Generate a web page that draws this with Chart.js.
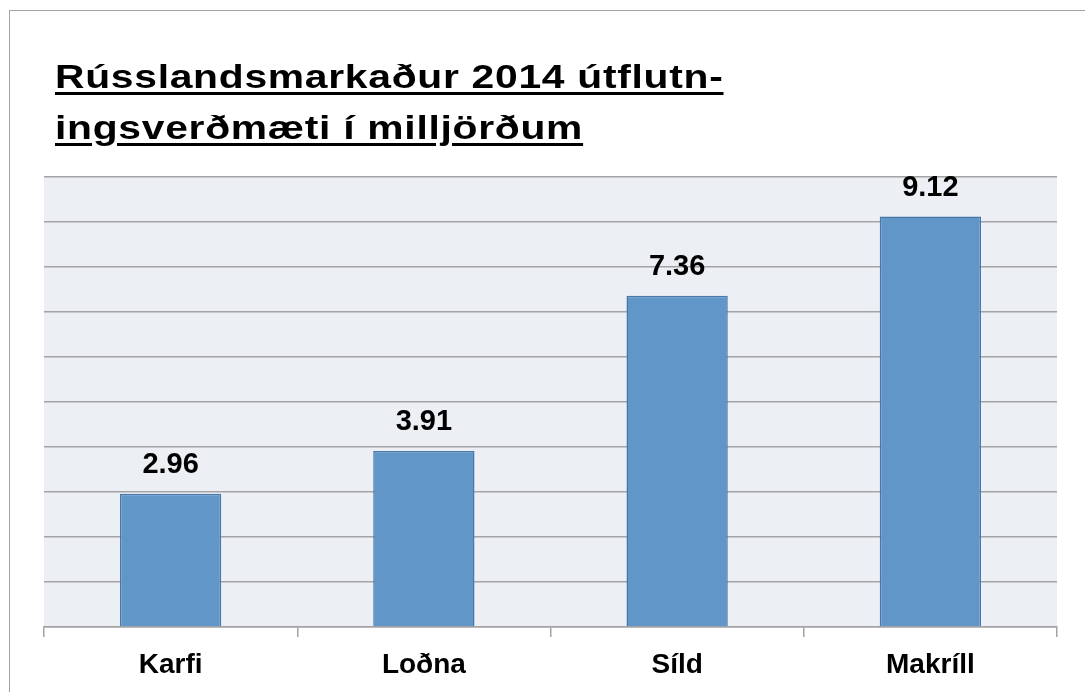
<!DOCTYPE html>
<html lang="is">
<head>
<meta charset="utf-8">
<title>Rússlandsmarkaður 2014</title>
<script src="https://cdn.jsdelivr.net/npm/chart.js@4.4.1/dist/chart.umd.min.js"></script>
<style>
  html, body { margin: 0; padding: 0; background: #ffffff; }
  #palco { position: relative; width: 1085px; height: 692px; overflow: hidden; }
  #moldura {
    position: absolute; left: 9px; top: 10px; right: -5px; bottom: -5px;
    border-left: 1.5px solid #a3a3a3; border-top: 1.5px solid #a3a3a3;
  }
  #titulo {
    position: absolute; left: 55px; top: 51px; margin: 0; white-space: nowrap;
    font: bold 34px/51px "Liberation Sans", Arial, Helvetica, sans-serif;
    letter-spacing: 0.6px; color: #000;
    text-decoration: underline; text-decoration-thickness: 3px; text-underline-offset: 4px;
    transform: scaleX(1.2); transform-origin: left top;
  }
  #grafico { position: absolute; left: 0; top: 0; }
</style>
</head>
<body>
<div id="palco">
  <div id="moldura"></div>
  <canvas id="grafico" width="1085" height="692"></canvas>
  <div id="titulo"></div>
</div>
<script>
// Dados do gráfico
const titulo = ['Rússlandsmarkaður 2014 útflutn-', 'ingsverðmæti í milljörðum'];
const categorias = ['Karfi', 'Loðna', 'Síld', 'Makríll'];
const valores = [2.96, 3.91, 7.36, 9.12];
const eixoYMin = 0;
const eixoYMax = 10;
const eixoYPasso = 1;

const fonte = '"Liberation Sans", Arial, Helvetica, sans-serif';
const corGrade = '#a3a3a3';

// Título em HTML (sublinhado)
document.getElementById('titulo').innerHTML = titulo.join('<br>');

// Fundo da área do gráfico
const fundoArea = {
  id: 'fundoArea',
  beforeDraw(chart) {
    const { ctx, chartArea: a } = chart;
    ctx.save();
    ctx.fillStyle = '#eceff4';
    ctx.fillRect(a.left, a.top, a.right - a.left, a.bottom - a.top);
    ctx.restore();
  }
};

// Rótulos de valor acima das barras
const rotulosValor = {
  id: 'rotulosValor',
  afterDatasetsDraw(chart) {
    const { ctx } = chart;
    const meta = chart.getDatasetMeta(0);
    ctx.save();
    ctx.font = 'bold 29px ' + fonte;
    ctx.fillStyle = '#000';
    ctx.textAlign = 'center';
    ctx.textBaseline = 'alphabetic';
    meta.data.forEach((barra, i) => {
      ctx.fillText(valores[i].toFixed(2), barra.x, barra.y - 21);
    });
    ctx.restore();
  }
};

new Chart(document.getElementById('grafico').getContext('2d'), {
  type: 'bar',
  data: {
    labels: categorias,
    datasets: [{
      data: valores,
      backgroundColor: '#6196c9',
      borderColor: '#4a77a9',
      borderWidth: 1.5,
      barPercentage: 0.4,
      categoryPercentage: 1
    }]
  },
  options: {
    responsive: false,
    animation: false,
    devicePixelRatio: 1,
    layout: { padding: { left: 44, right: 28, top: 177, bottom: 0 } },
    plugins: {
      legend: { display: false },
      tooltip: { enabled: false }
    },
    scales: {
      x: {
        afterFit(s) { s.height = 65; },
        grid: {
          display: true,
          drawOnChartArea: false,
          tickLength: 10,
          color: corGrade,
          lineWidth: 1.5
        },
        border: { display: true, color: corGrade, width: 1.5 },
        ticks: {
          color: '#000',
          padding: 11,
          font: { family: fonte, size: 28, weight: 'bold' }
        }
      },
      y: {
        min: eixoYMin,
        max: eixoYMax,
        afterFit(s) { s.width = 0; },
        ticks: { display: false, stepSize: eixoYPasso },
        grid: { color: corGrade, lineWidth: 1.5, drawTicks: false },
        border: { display: false }
      }
    }
  },
  plugins: [fundoArea, rotulosValor]
});
</script>
</body>
</html>
